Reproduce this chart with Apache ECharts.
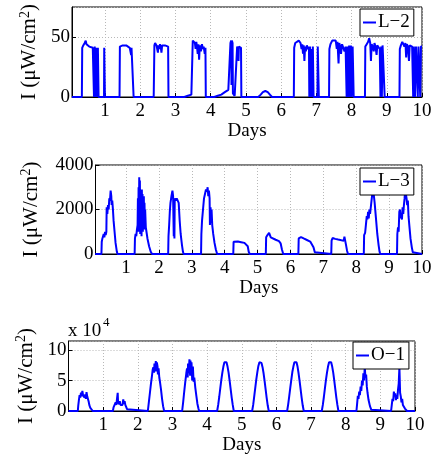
<!DOCTYPE html>
<html>
<head>
<meta charset="utf-8">
<script src="https://cdn.jsdelivr.net/npm/echarts@6/dist/echarts.min.js"></script>
<style>
html,body{margin:0;padding:0;background:#fff;}
#chart{width:435px;height:457px;}
</style>
</head>
<body>
<div id="chart"></div>
<script>
// ---- data (day, intensity) ----
const seriesNames = ['L\u22122', 'L\u22123', 'O\u22121'];
const dayTicks = [1, 2, 3, 4, 5, 6, 7, 8, 9, 10];
const yMaxL2 = 75, yStepL2 = 50;
const yMaxL3 = 4000, yStepL3 = 2000;
const yMaxO1 = 11.5, yStepO1 = 5;   // O-1 values in units of 10^4

const l2Data = [
 [0.06,0],[0.34,0],[0.35,41],[0.38,43],[0.42,45],[0.45,47],[0.47,44],[0.5,43],[0.55,42],[0.6,42],[0.65,41],[0.68,41],[0.685,0],[0.7,0],[0.705,42],[0.72,42],[0.725,0],[0.745,0],[0.75,41],[0.765,41],[0.77,0],[0.79,0],[0.795,41],[0.81,41],[0.815,0],[0.97,0],[0.975,41],[0.99,41],[0.995,0],
 [1.41,0],[1.42,42],[1.45,43],[1.5,43],[1.55,42],[1.6,43],[1.65,42],[1.7,41],[1.72,42],[1.74,35],[1.75,41],[1.78,42],[1.8,41],[1.81,0],
 [2.38,0],[2.39,1],[2.40,43],[2.42,45],[2.44,46],[2.46,43],[2.48,44],[2.5,37],[2.51,43],[2.54,40],[2.56,44],[2.58,42],[2.6,37],[2.62,43],[2.66,42],[2.7,43],[2.75,42],[2.79,42],[2.8,0],
 [3.25,0],[3.35,1],[3.45,2],[3.48,3],[3.49,47],[3.52,48],[3.55,45],[3.57,40],[3.59,46],[3.61,42],[3.63,36],[3.65,44],[3.67,31],[3.69,43],[3.72,38],[3.75,44],[3.78,40],[3.8,42],[3.83,36],[3.85,41],[3.86,0],
 [4.1,0],[4.2,1],[4.3,2],[4.4,4],[4.5,6],[4.55,5],[4.56,45],[4.58,47],[4.59,10],[4.6,47],[4.62,45],[4.63,3],[4.68,1],[4.73,0],[4.75,42],[4.78,40],[4.79,30],[4.8,42],[4.84,42],[4.86,41],[4.87,0],
 [5.35,0],[5.42,2],[5.48,4],[5.55,5],[5.62,4],[5.68,2],[5.74,0],
 [6.36,0],[6.37,41],[6.4,45],[6.45,46],[6.5,47],[6.55,45],[6.58,40],[6.6,44],[6.62,36],[6.64,43],[6.66,30],[6.68,42],[6.7,38],[6.73,43],[6.76,40],[6.79,42],[6.8,0],[6.82,42],[6.84,0],[6.86,40],[6.88,0],[6.9,42],[6.92,0],[7.03,0],[7.04,42],[7.06,42],[7.07,0],
 [7.36,0],[7.37,40],[7.4,44],[7.45,47],[7.5,48],[7.55,47],[7.58,40],[7.6,46],[7.63,28],[7.65,45],[7.68,42],[7.7,36],[7.73,44],[7.77,43],[7.8,38],[7.83,42],[7.85,42],[7.86,0],[7.88,42],[7.9,0],[7.93,43],[7.95,0],[7.98,43],[8.0,0],[8.03,42],[8.05,42],[8.06,0],
 [8.38,0],[8.39,42],[8.43,44],[8.47,46],[8.5,49],[8.53,45],[8.55,30],[8.57,44],[8.6,42],[8.63,38],[8.65,45],[8.68,42],[8.71,35],[8.73,43],[8.76,42],[8.8,40],[8.82,0],[8.84,42],[8.86,0],[8.88,43],[8.9,42],[8.93,42],[8.94,0],
 [9.36,0],[9.37,40],[9.4,43],[9.44,46],[9.47,44],[9.5,42],[9.53,45],[9.55,33],[9.57,44],[9.6,42],[9.63,30],[9.65,43],[9.68,42],[9.72,42],[9.75,0],[9.77,42],[9.8,0],[9.83,42],[9.86,43],[9.88,0],[9.9,42],[9.93,43],[9.95,0],[9.97,42],[10,42]
];

const l3Data = [
 [0.06,0],[0.25,0],[0.26,550],[0.28,700],[0.30,650],[0.32,900],[0.34,750],[0.36,1000],[0.38,850],[0.40,1000],[0.41,2100],[0.43,1800],[0.45,2200],[0.47,2000],[0.49,2500],[0.51,2400],[0.53,2850],[0.55,2600],[0.56,2200],[0.58,2400],[0.60,2000],[0.62,1500],[0.65,1000],[0.68,500],[0.72,100],[0.74,0],
 [1.26,0],[1.27,700],[1.29,900],[1.31,800],[1.33,1100],[1.35,1300],[1.36,2500],[1.37,1000],[1.38,3000],[1.39,1500],[1.40,3450],[1.41,1200],[1.42,3300],[1.43,900],[1.44,2800],[1.45,1200],[1.46,2600],[1.47,800],[1.48,2900],[1.49,1400],[1.50,2700],[1.51,1000],[1.52,2500],[1.53,1300],[1.54,2600],[1.55,1100],[1.56,2300],[1.57,1500],[1.58,2000],[1.60,1200],[1.62,1000],[1.65,700],[1.70,350],[1.75,100],[1.79,0],
 [2.28,0],[2.29,800],[2.31,1300],[2.33,1900],[2.35,2300],[2.38,2600],[2.41,2850],[2.43,2600],[2.45,800],[2.46,2200],[2.47,700],[2.48,2500],[2.51,2400],[2.54,2500],[2.57,2400],[2.60,2300],[2.63,1500],[2.66,900],[2.70,400],[2.73,100],[2.75,0],
 [3.28,0],[3.29,900],[3.31,1500],[3.34,2000],[3.37,2500],[3.40,2700],[3.43,2900],[3.46,2800],[3.48,3000],[3.50,2600],[3.52,2850],[3.54,2500],[3.55,1300],[3.57,2100],[3.58,1400],[3.60,2000],[3.62,1300],[3.65,900],[3.69,500],[3.73,200],[3.77,0],
 [4.26,0],[4.27,550],[4.30,580],[4.40,560],[4.50,530],[4.60,500],[4.66,460],[4.70,350],[4.73,100],[4.76,0],
 [5.25,0],[5.26,750],[5.30,850],[5.35,950],[5.37,950],[5.40,750],[5.45,680],[5.55,640],[5.65,580],[5.70,480],[5.74,200],[5.78,0],
 [6.24,0],[6.25,700],[6.28,780],[6.32,760],[6.40,700],[6.50,630],[6.60,560],[6.66,480],[6.70,300],[6.74,80],[6.77,0],
 [7.24,0],[7.25,600],[7.28,720],[7.32,750],[7.36,680],[7.45,650],[7.55,620],[7.62,600],[7.64,780],[7.66,700],[7.69,400],[7.72,150],[7.75,0],
 [8.23,0],[8.24,850],[8.27,950],[8.30,1400],[8.32,1700],[8.34,1550],[8.36,1900],[8.38,1600],[8.40,2000],[8.42,1800],[8.45,2200],[8.48,2600],[8.51,2950],[8.53,2700],[8.56,2300],[8.60,1600],[8.64,900],[8.68,400],[8.71,100],[8.73,0],
 [9.24,0],[9.25,900],[9.27,1200],[9.29,1000],[9.31,1900],[9.33,2000],[9.35,1600],[9.37,1800],[9.39,1550],[9.41,2100],[9.43,1800],[9.45,2200],[9.47,2500],[9.49,2900],[9.51,2700],[9.53,2500],[9.55,2200],[9.57,2400],[9.59,1700],[9.62,1200],[9.65,700],[9.69,300],[9.72,80],[9.74,0],[10,0]
];

const o1Data = [
 [0,0],[0.27,0],[0.28,0.8],[0.30,1.8],[0.32,2.6],[0.34,2.2],[0.36,3.0],[0.38,2.4],[0.40,3.3],[0.42,2.6],[0.44,2.9],[0.46,2.2],[0.48,2.7],[0.50,2.0],[0.52,3.1],[0.54,2.4],[0.56,2.6],[0.58,1.6],[0.60,1.0],[0.63,0.5],[0.66,0.2],[0.70,0],
 [1.28,0],[1.30,0.6],[1.33,1.0],[1.36,1.4],[1.38,1.0],[1.40,2.0],[1.42,3.0],[1.43,1.5],[1.45,1.1],[1.48,1.6],[1.50,1.0],[1.53,1.3],[1.56,1.0],[1.58,1.9],[1.60,1.2],[1.62,1.6],[1.64,1.0],[1.66,0.7],[1.69,0.3],[1.72,0],
 [2.29,0],[2.32,1.5],[2.35,3.0],[2.38,4.5],[2.41,5.8],[2.43,6.8],[2.45,7.2],[2.47,6.3],[2.48,7.8],[2.50,7.0],[2.52,8.2],[2.53,6.5],[2.55,8.0],[2.57,7.3],[2.58,6.0],[2.60,7.0],[2.62,5.5],[2.64,4.8],[2.67,3.5],[2.70,2.0],[2.73,0.8],[2.76,0],
 [3.28,0],[3.31,1.5],[3.34,3.2],[3.37,4.8],[3.40,6.2],[3.42,7.0],[3.44,5.5],[3.45,7.8],[3.47,6.2],[3.49,8.5],[3.51,5.8],[3.52,8.3],[3.54,6.5],[3.55,8.0],[3.57,5.0],[3.59,7.3],[3.61,4.8],[3.63,5.5],[3.66,3.8],[3.69,2.5],[3.72,1.2],[3.75,0.4],[3.77,0],
 [4.29,0],[4.32,1.0],[4.35,2.3],[4.38,3.7],[4.41,5.1],[4.44,6.3],[4.47,7.3],[4.50,8.0],[4.53,8.2],[4.56,8.0],[4.59,7.3],[4.62,6.3],[4.65,5.0],[4.68,3.6],[4.71,2.2],[4.74,1.0],[4.77,0],
 [5.30,0],[5.33,1.0],[5.36,2.4],[5.39,3.8],[5.42,5.2],[5.45,6.4],[5.48,7.4],[5.51,8.0],[5.54,8.2],[5.57,7.9],[5.60,7.2],[5.63,6.2],[5.66,4.9],[5.69,3.5],[5.72,2.1],[5.75,0.9],[5.78,0],
 [6.31,0],[6.34,1.1],[6.37,2.4],[6.40,3.8],[6.43,5.1],[6.46,6.4],[6.49,7.3],[6.52,8.0],[6.55,8.2],[6.58,8.0],[6.61,7.3],[6.64,6.2],[6.67,4.9],[6.70,3.5],[6.73,2.1],[6.76,0.9],[6.79,0],
 [7.31,0],[7.34,1.0],[7.37,2.3],[7.40,3.7],[7.43,5.1],[7.46,6.3],[7.49,7.3],[7.52,8.0],[7.55,8.2],[7.58,8.0],[7.61,7.3],[7.64,6.3],[7.67,5.0],[7.70,3.6],[7.73,2.2],[7.76,1.0],[7.79,0],
 [8.31,0],[8.33,1.2],[8.35,2.5],[8.37,2.0],[8.39,3.2],[8.41,2.6],[8.43,4.0],[8.45,3.3],[8.47,5.0],[8.49,4.2],[8.51,6.2],[8.53,5.0],[8.55,7.2],[8.57,5.5],[8.59,6.0],[8.61,4.0],[8.63,3.0],[8.66,1.8],[8.70,0.8],[8.74,0.2],[8.77,0],
 [9.31,0],[9.33,1.0],[9.35,2.0],[9.37,1.6],[9.39,3.2],[9.41,2.4],[9.43,2.9],[9.45,1.8],[9.47,2.6],[9.49,2.0],[9.51,3.5],[9.53,4.5],[9.55,7.2],[9.57,3.0],[9.59,2.4],[9.61,1.4],[9.63,2.0],[9.65,1.0],[9.68,1.2],[9.71,0.4],[9.74,0.1],[9.77,0],[10,0]
];

// ---- chart ----
const FONT = '"Liberation Serif", "Times New Roman", serif';
const BLUE = '#0000ff';
const chart = echarts.init(document.getElementById('chart'), null, {renderer: 'canvas'});

const grids = [
  {left: 72, right: 13, top: 7, height: 90},
  {left: 95.5, right: 13, top: 165, height: 89},
  {left: 68.5, right: 20, top: 341, height: 70}
];
const xMins = [0.06, 0.07, 0];
const yCfg = [
  {max: yMaxL2, step: yStepL2, gap: 30, showMax: false},
  {max: yMaxL3, step: yStepL3, gap: 53, showMax: true},
  {max: yMaxO1, step: yStepO1, gap: 27, showMax: false}
];
const xNameGaps = [19, 21, 12];
const legendPos = [
  {left: 360, top: 9},
  {left: 360, top: 168},
  {left: 353, top: 342}
];
const datas = [l2Data, l3Data, o1Data];

const yName = 'I (\u03bcW/cm{sup|2})';
const FS = 19;

const option = {
  animation: false,
  backgroundColor: '#fff',
  textStyle: {fontFamily: FONT},
  grid: grids.map(g => Object.assign({show: true, borderColor: '#000', borderWidth: 1, backgroundColor: '#fff'}, g)),
  xAxis: grids.map((g, i) => ({
    type: 'value', gridIndex: i, min: xMins[i], max: 10,
    name: 'Days', nameLocation: 'middle', nameGap: xNameGaps[i],
    nameTextStyle: {fontFamily: FONT, fontSize: FS, color: '#000'},
    axisLine: {show: true, lineStyle: {color: '#000', width: 1}},
    axisTick: {show: true, inside: true, length: 4, lineStyle: {color: '#000'}, customValues: dayTicks},
    axisLabel: {fontFamily: FONT, fontSize: FS, color: '#000', margin: 5, customValues: dayTicks,
      formatter: v => String(v)},
    splitLine: {show: true, lineStyle: {color: '#b8b8b8', type: [1, 2], width: 1}}
  })),
  yAxis: yCfg.map((c, i) => ({
    type: 'value', gridIndex: i, min: 0, max: c.max, interval: c.step,
    name: yName, nameLocation: 'middle', nameGap: c.gap, nameRotate: 90,
    nameTextStyle: {fontFamily: FONT, fontSize: 21, color: '#000',
      rich: {sup: {fontFamily: FONT, fontSize: 14, color: '#000', verticalAlign: 'top', padding: [0, 0, 9, 0]}}},
    axisLine: {show: true, lineStyle: {color: '#000', width: 1}},
    axisTick: {show: true, inside: true, length: 4, lineStyle: {color: '#000'}},
    axisLabel: {fontFamily: FONT, fontSize: FS, color: '#000', margin: 2, showMaxLabel: c.showMax,
      formatter: v => String(v)},
    splitLine: {show: true, lineStyle: {color: '#b8b8b8', type: [1, 2], width: 1}}
  })),
  legend: legendPos.map((p, i) => ({
    data: [seriesNames[i]], left: p.left, top: p.top,
    orient: 'horizontal', backgroundColor: '#fff', borderColor: '#000', borderWidth: 1,
    padding: [4, 4, 4, 3], itemWidth: 13, itemHeight: 2, itemGap: 2, icon: 'rect',
    selectedMode: false,
    textStyle: {fontFamily: FONT, fontSize: FS, color: '#000', padding: [0, 0, 0, -3]}
  })),
  series: datas.map((d, i) => ({
    name: seriesNames[i], type: 'line', xAxisIndex: i, yAxisIndex: i,
    data: d, showSymbol: false, symbol: 'none', clip: true,
    lineStyle: {color: BLUE, width: 2}, itemStyle: {color: BLUE}
  })),
  graphic: [
    {type: 'text', left: 68, top: 322, style: {text: 'x 10', font: '19px ' + FONT, fill: '#000'}},
    {type: 'text', left: 103, top: 316, style: {text: '4', font: '13px ' + FONT, fill: '#000'}}
  ]
};
chart.setOption(option);
</script>
</body>
</html>
